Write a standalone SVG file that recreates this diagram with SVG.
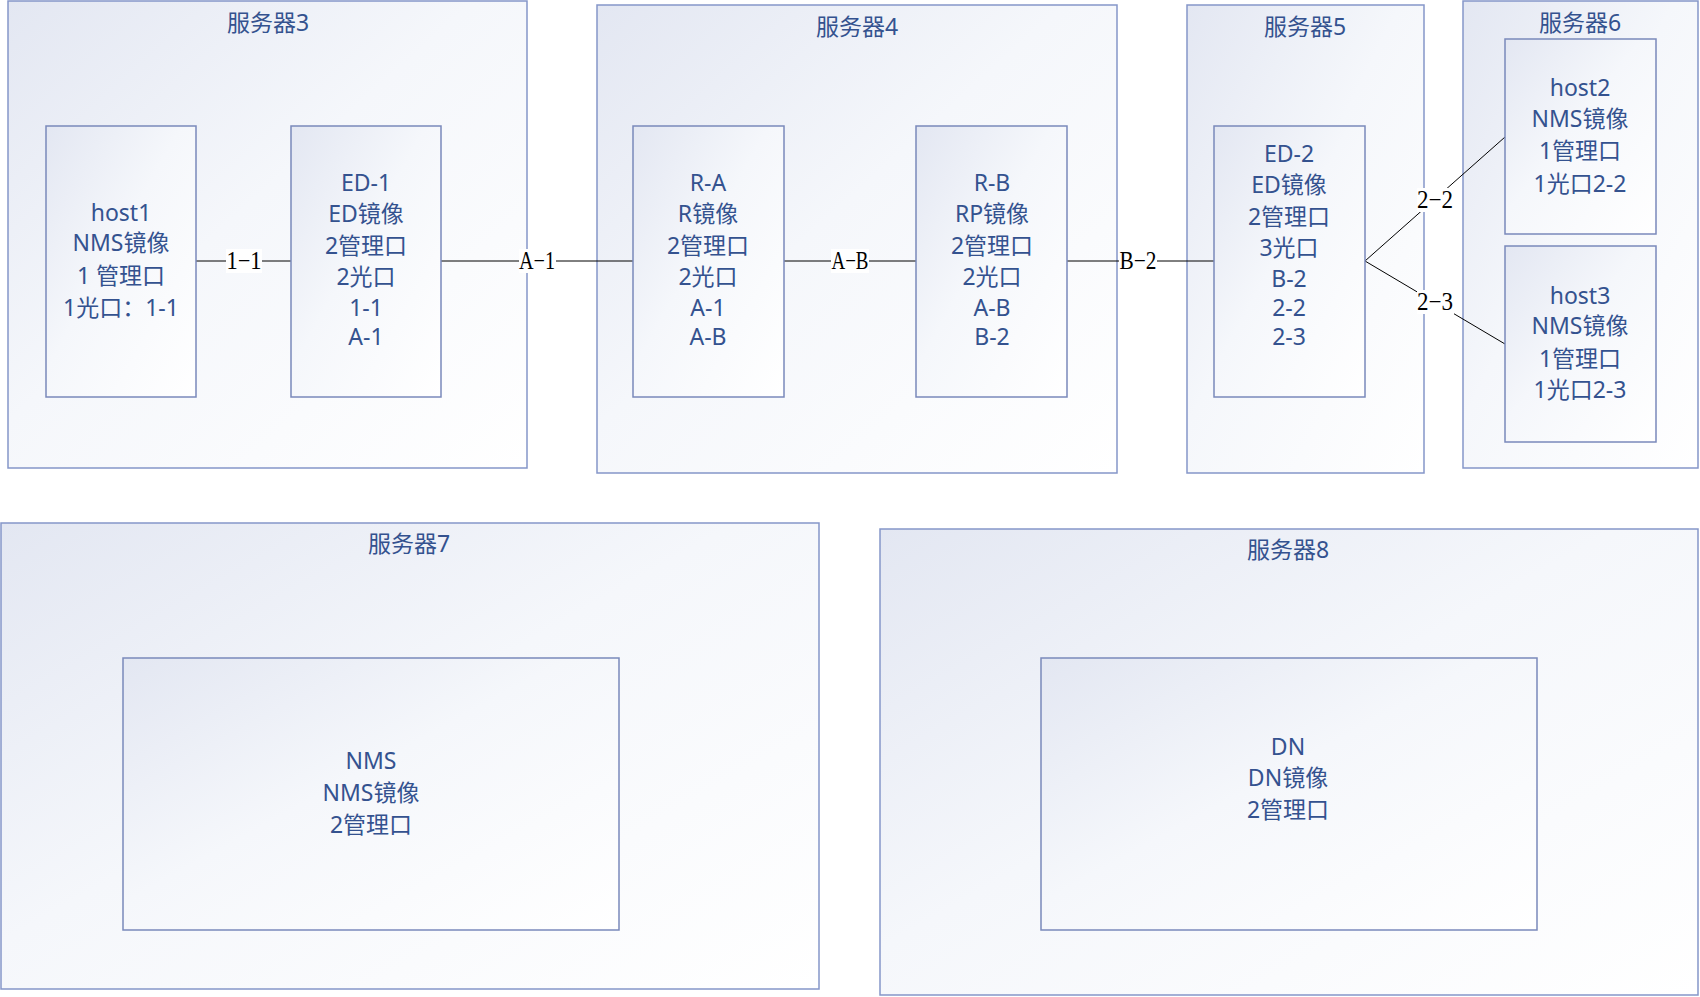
<svg xmlns="http://www.w3.org/2000/svg" width="1700" height="997" viewBox="0 0 1700 997">
<style>
.box{fill:url(#g);stroke:#8596c9;stroke-width:1.5}
.in{fill:url(#g);stroke:#7a89bb;stroke-width:1.5}
.t{font-family:"Noto Sans","Noto Sans CJK SC",sans-serif;font-size:23px;fill:#34528f;text-anchor:middle}
.ln{stroke:#000;stroke-width:1;fill:none}
.lb{font-family:"Liberation Serif","Noto Serif CJK SC",serif;font-size:25px;fill:#000;text-anchor:middle}
.lbg{fill:#fff}
</style>
<defs>
<linearGradient id="g" x1="0" y1="0" x2="1" y2="1">
<stop offset="0" stop-color="#e3e7f2"/>
<stop offset="0.45" stop-color="#f5f7fb"/>
<stop offset="1" stop-color="#ffffff"/>
</linearGradient>
</defs>
<rect width="1700" height="997" fill="#fff"/>

<g id="server3">
<rect class="box" x="8" y="1" width="519" height="467"/>
<text class="t" x="268" y="31">服务器3</text>
</g>
<g id="server4">
<rect class="box" x="597" y="5" width="520" height="468"/>
<text class="t" x="857" y="35">服务器4</text>
</g>
<g id="server5">
<rect class="box" x="1187" y="5" width="237" height="468"/>
<text class="t" x="1305" y="35">服务器5</text>
</g>
<g id="server6">
<rect class="box" x="1463" y="1" width="235" height="467"/>
<text class="t" x="1580" y="31">服务器6</text>
</g>
<g id="server7">
<rect class="box" x="1" y="523" width="818" height="466"/>
<text class="t" x="409" y="552">服务器7</text>
</g>
<g id="server8">
<rect class="box" x="880" y="529" width="818" height="466"/>
<text class="t" x="1288" y="558">服务器8</text>
</g>

<g id="connectors">
<line class="ln" x1="196" y1="261" x2="291" y2="261"/>
<line class="ln" x1="441" y1="261" x2="633" y2="261"/>
<line class="ln" x1="784" y1="261" x2="916" y2="261"/>
<line class="ln" x1="1067" y1="261" x2="1214" y2="261"/>
<line class="ln" x1="1365" y1="261" x2="1505" y2="137"/>
<line class="ln" x1="1365" y1="261" x2="1505" y2="344"/>
<rect class="lbg" x="226" y="249" width="36" height="24"/>
<text class="lb" x="244" y="269" textLength="35" lengthAdjust="spacingAndGlyphs">1−1</text>
<rect class="lbg" x="519" y="249" width="37" height="24"/>
<text class="lb" x="537" y="269" textLength="36" lengthAdjust="spacingAndGlyphs">A−1</text>
<rect class="lbg" x="831" y="249" width="38" height="24"/>
<text class="lb" x="850" y="269" textLength="37" lengthAdjust="spacingAndGlyphs">A−B</text>
<rect class="lbg" x="1119" y="249" width="38" height="24"/>
<text class="lb" x="1138" y="269" textLength="37" lengthAdjust="spacingAndGlyphs">B−2</text>
<rect class="lbg" x="1417" y="188" width="37" height="24"/>
<text class="lb" x="1435" y="208" textLength="36" lengthAdjust="spacingAndGlyphs">2−2</text>
<rect class="lbg" x="1417" y="290" width="37" height="24"/>
<text class="lb" x="1435" y="310" textLength="36" lengthAdjust="spacingAndGlyphs">2−3</text>
</g>

<g id="host1">
<rect class="in" x="46" y="126" width="150" height="271"/>
<text class="t" x="121" y="221">host1</text>
<text class="t" x="121" y="251">NMS镜像</text>
<text class="t" x="121" y="284">1 管理口</text>
<text class="t" x="121" y="316">1光口：1-1</text>
</g>
<g id="ED-1">
<rect class="in" x="291" y="126" width="150" height="271"/>
<text class="t" x="366" y="191">ED-1</text>
<text class="t" x="366" y="222">ED镜像</text>
<text class="t" x="366" y="254">2管理口</text>
<text class="t" x="366" y="285">2光口</text>
<text class="t" x="366" y="316">1-1</text>
<text class="t" x="366" y="345">A-1</text>
</g>
<g id="R-A">
<rect class="in" x="633" y="126" width="151" height="271"/>
<text class="t" x="708" y="191">R-A</text>
<text class="t" x="708" y="222">R镜像</text>
<text class="t" x="708" y="254">2管理口</text>
<text class="t" x="708" y="285">2光口</text>
<text class="t" x="708" y="316">A-1</text>
<text class="t" x="708" y="345">A-B</text>
</g>
<g id="R-B">
<rect class="in" x="916" y="126" width="151" height="271"/>
<text class="t" x="992" y="191">R-B</text>
<text class="t" x="992" y="222">RP镜像</text>
<text class="t" x="992" y="254">2管理口</text>
<text class="t" x="992" y="285">2光口</text>
<text class="t" x="992" y="316">A-B</text>
<text class="t" x="992" y="345">B-2</text>
</g>
<g id="ED-2">
<rect class="in" x="1214" y="126" width="151" height="271"/>
<text class="t" x="1289" y="162">ED-2</text>
<text class="t" x="1289" y="193">ED镜像</text>
<text class="t" x="1289" y="225">2管理口</text>
<text class="t" x="1289" y="256">3光口</text>
<text class="t" x="1289" y="287">B-2</text>
<text class="t" x="1289" y="316">2-2</text>
<text class="t" x="1289" y="345">2-3</text>
</g>
<g id="host2">
<rect class="in" x="1505" y="39" width="151" height="195"/>
<text class="t" x="1580" y="96">host2</text>
<text class="t" x="1580" y="127">NMS镜像</text>
<text class="t" x="1580" y="159">1管理口</text>
<text class="t" x="1580" y="192">1光口2-2</text>
</g>
<g id="host3">
<rect class="in" x="1505" y="246" width="151" height="196"/>
<text class="t" x="1580" y="304">host3</text>
<text class="t" x="1580" y="334">NMS镜像</text>
<text class="t" x="1580" y="367">1管理口</text>
<text class="t" x="1580" y="398">1光口2-3</text>
</g>
<g id="NMS">
<rect class="in" x="123" y="658" width="496" height="272"/>
<text class="t" x="371" y="769">NMS</text>
<text class="t" x="371" y="801">NMS镜像</text>
<text class="t" x="371" y="833">2管理口</text>
</g>
<g id="DN">
<rect class="in" x="1041" y="658" width="496" height="272"/>
<text class="t" x="1288" y="755">DN</text>
<text class="t" x="1288" y="786">DN镜像</text>
<text class="t" x="1288" y="818">2管理口</text>
</g>
</svg>
